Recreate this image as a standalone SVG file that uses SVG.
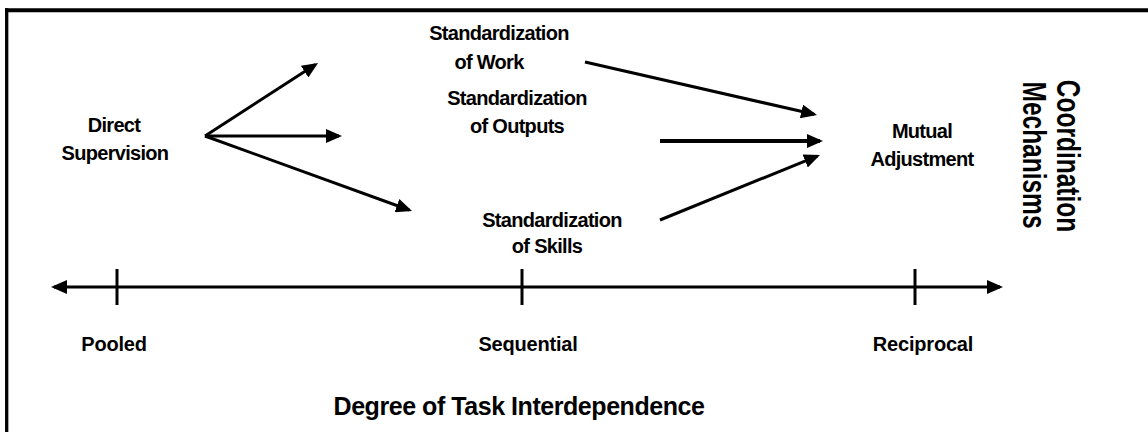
<svg xmlns="http://www.w3.org/2000/svg" width="1148" height="432" viewBox="0 0 1148 432">
<style>
text{font-family:"Liberation Sans",Arial,sans-serif;font-weight:bold;fill:#000;text-anchor:middle}
.n{font-size:20px;letter-spacing:-0.7px}
.ax{font-size:20px;letter-spacing:-0.2px}
.ttl{font-size:25px;letter-spacing:-0.45px}
.rot{font-size:24.5px}
.c{stroke:#000;stroke-width:3;fill:none}
.c2{stroke:#000;stroke-width:4;fill:none}
.tick{stroke:#000;stroke-width:3}
.frame{stroke:#000;fill:none}
</style>
<defs>
<marker id="ah" markerUnits="userSpaceOnUse" markerWidth="16" markerHeight="14" refX="13" refY="7" orient="auto-start-reverse" viewBox="0 0 16 14">
<path d="M0,0 L16,7 L0,14 z" fill="#000"/>
</marker>
</defs>
<rect width="1148" height="432" fill="#fff"/>
<g id="frame">
<line class="frame" x1="5" y1="10.3" x2="1148" y2="10.3" stroke-width="4"/>
<line class="frame" x1="6.7" y1="8.3" x2="6.7" y2="432" stroke-width="3.3"/>
</g>
<g id="connectors">
<line class="c" x1="205" y1="136" x2="315.5" y2="64.6" marker-end="url(#ah)"/>
<line class="c" x1="205" y1="136" x2="339" y2="136" marker-end="url(#ah)"/>
<line class="c" x1="205" y1="136" x2="409.2" y2="210" marker-end="url(#ah)"/>
<line class="c" x1="585" y1="62" x2="814.1" y2="114.3" marker-end="url(#ah)"/>
<line class="c2" x1="660" y1="141" x2="820" y2="141" marker-end="url(#ah)"/>
<line class="c" x1="660" y1="220" x2="817.2" y2="156.1" marker-end="url(#ah)"/>
</g>
<g id="axis">
<line class="c" x1="54" y1="287" x2="1000" y2="287" marker-start="url(#ah)" marker-end="url(#ah)"/>
<line class="tick" x1="117" y1="269" x2="117" y2="305"/>
<line class="tick" x1="522" y1="269" x2="522" y2="305"/>
<line class="tick" x1="915" y1="269" x2="915" y2="305"/>
</g>
<g id="direct-supervision">
<text class="n" x="114" y="132">Direct</text>
<text class="n" x="115" y="160">Supervision</text>
</g>
<g id="std-work">
<text class="n" x="499" y="40">Standardization</text>
<text class="n" x="489" y="69">of Work</text>
</g>
<g id="std-outputs">
<text class="n" x="517" y="105">Standardization</text>
<text class="n" x="517" y="133">of Outputs</text>
</g>
<g id="std-skills">
<text class="n" x="552" y="227">Standardization</text>
<text class="n" x="547" y="253">of Skills</text>
</g>
<g id="mutual-adjustment">
<text class="n" x="922" y="138">Mutual</text>
<text class="n" x="922" y="166">Adjustment</text>
</g>
<g id="coordination-mechanisms">
<text class="rot" transform="translate(1057,156) rotate(90) scale(1,1.37)">Coordination</text>
<text class="rot" transform="translate(1023,155) rotate(90) scale(1,1.37)">Mechanisms</text>
</g>
<g id="axis-labels">
<text class="ax" x="114" y="351">Pooled</text>
<text class="ax" x="528" y="351">Sequential</text>
<text class="ax" x="923" y="351">Reciprocal</text>
</g>
<g id="axis-title">
<text class="ttl" x="519" y="415">Degree of Task Interdependence</text>
</g>
</svg>
